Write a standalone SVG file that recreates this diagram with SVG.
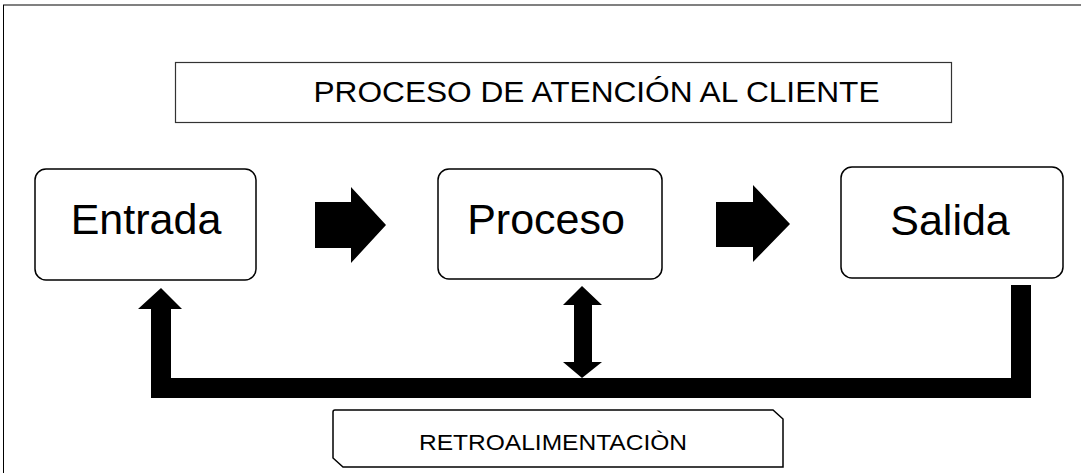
<svg xmlns="http://www.w3.org/2000/svg" width="1081" height="473" viewBox="0 0 1081 473">
<style>
.box{fill:#fff;stroke:#000;stroke-width:1.5}
.big{font-family:"Liberation Sans",Arial,sans-serif;font-size:43px;fill:#000;text-anchor:middle}
.title{font-family:"Liberation Sans",Arial,sans-serif;font-size:30px;fill:#000;text-anchor:middle}
.small{font-family:"Liberation Sans",Arial,sans-serif;font-size:22px;fill:#000;text-anchor:middle}
.blk{fill:#000;stroke:none}
</style>
<rect width="1081" height="473" fill="#fff"/>
<g id="frame">
<line x1="3" y1="5" x2="1081" y2="5" stroke="#808080" stroke-width="2"/>
<line x1="3.5" y1="5" x2="3.5" y2="473" stroke="#000" stroke-width="1"/>
</g>
<g id="title">
<rect class="box" x="175.5" y="62.5" width="776" height="60" style="stroke:#333;stroke-width:1.2"/>
<text class="title" x="596.5" y="102" textLength="566" lengthAdjust="spacingAndGlyphs">PROCESO DE ATENCIÓN AL CLIENTE</text>
</g>
<g id="entrada">
<rect class="box" x="35" y="169" width="221" height="111" rx="11"/>
<text class="big" x="146" y="234">Entrada</text>
</g>
<g id="proceso">
<rect class="box" x="438" y="169" width="224" height="110" rx="11"/>
<text class="big" x="546" y="234">Proceso</text>
</g>
<g id="salida">
<rect class="box" x="841" y="167" width="222" height="111" rx="11"/>
<text class="big" x="950" y="235">Salida</text>
</g>
<g id="retroalimentacion">
<path class="box" d="M333,412 Q333,410 335,410 L773,410 L783,419 L783,467 L343,467 L333,458 Z"/>
<text class="small" x="553" y="450" textLength="268" lengthAdjust="spacingAndGlyphs">RETROALIMENTACIÒN</text>
</g>
<g id="connectors">
<polygon class="blk" points="315,202 351,202 351,187 386,225 351,263 351,248 315,248"/>
<polygon class="blk" points="716,202 753,202 753,185 790,224 753,262 753,247 716,247"/>
<polygon class="blk" points="161,288 182,309 171,309 171,378 1011,378 1011,285 1031,285 1031,398 151,398 151,309 138,309"/>
<polygon class="blk" points="582,286 602,305 592,305 592,362 602,362 582,378 563,362 574,362 574,305 563,305"/>
</g>
</svg>
